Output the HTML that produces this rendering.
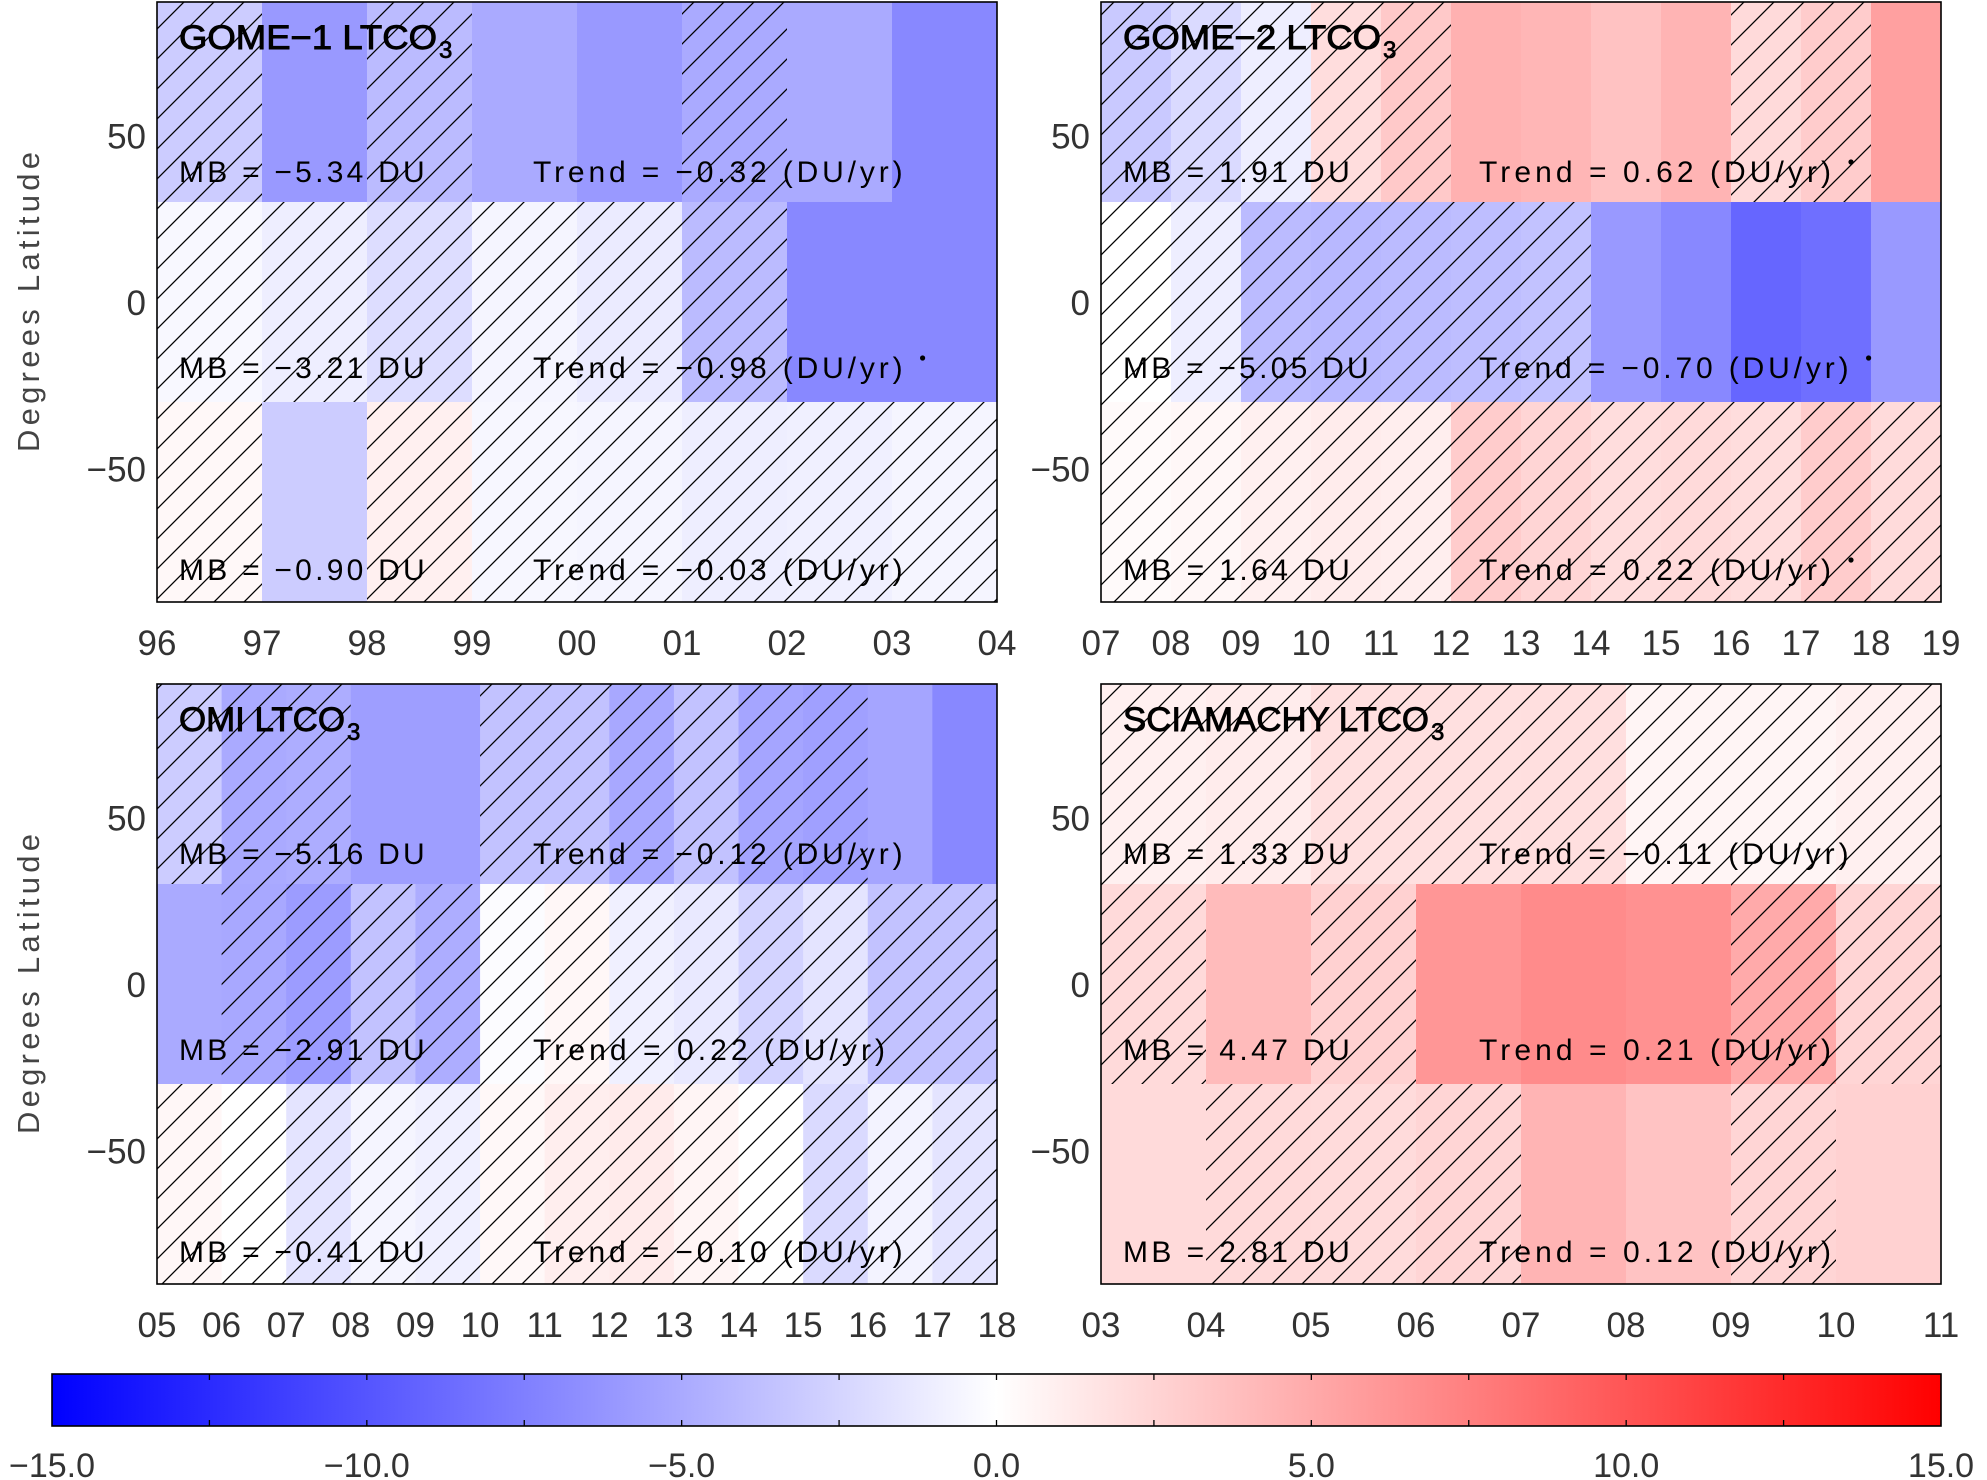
<!DOCTYPE html>
<html><head><meta charset="utf-8">
<style>
html,body{margin:0;padding:0;background:#fff;}
svg{display:block;}
text{font-family:"Liberation Sans",sans-serif;}
</style></head>
<body>
<svg id="fig" width="1987" height="1480" viewBox="0 0 1987 1480" xmlns="http://www.w3.org/2000/svg">
<defs>
<pattern id="hatch" patternUnits="userSpaceOnUse" width="30" height="30" patternTransform="translate(6,0)">
<path d="M0,30 L30,0 M-5,5 L5,-5 M25,35 L35,25" stroke="#000" stroke-width="1.3"/>
</pattern>
<linearGradient id="cbgrad" x1="0" x2="1" y1="0" y2="0">
<stop offset="0" stop-color="#0000ff"/><stop offset="0.5" stop-color="#ffffff"/><stop offset="1" stop-color="#ff0000"/>
</linearGradient>
</defs>
<g id="root"></g>
</svg>
<script>
// ---- data ----
const latBands = [[30, 90], [-30, 30], [-90, -30]];
const latTicks = [50, 0, -50];
const gome1Years = ["96","97","98","99","00","01","02","03","04"];
const gome1Vals = [
  [-3.0, -6.0, -4.0, -5.0, -6.0, -5.0, -5.0, -7.0],
  [-0.4, -1.0, -2.0, -0.6, -1.2, -4.0, -7.0, -7.0],
  [0.4, -3.0, 0.9, -0.5, -0.6, -1.0, -0.9, -0.6]
];
const gome1Hatch = [
  [1,0,1,0,0,1,0,0],
  [1,1,1,1,1,1,0,0],
  [1,0,1,1,1,1,1,1]
];
const gome1MB = ["−5.34","−3.21","−0.90"];
const gome1Trend = ["−0.32","−0.98","−0.03"];
const gome1Sig = [0,1,0];

const gome2Years = ["07","08","09","10","11","12","13","14","15","16","17","18","19"];
const gome2Vals = [
  [-3.2, -2.2, -1.0, 2.0, 3.2, 4.6, 4.3, 3.6, 4.4, 2.2, 3.0, 5.6],
  [0.0, -1.0, -4.0, -4.2, -4.0, -3.8, -3.6, -6.0, -7.0, -9.0, -8.5, -6.0],
  [0.3, 0.5, 0.9, 1.1, 1.0, 3.0, 2.5, 2.0, 2.2, 2.0, 3.0, 2.1]
];
const gome2Hatch = [
  [1,1,1,1,1,0,0,0,0,1,1,0],
  [1,1,1,1,1,1,1,0,0,0,0,0],
  [1,1,1,1,1,1,1,1,1,1,1,1]
];
const gome2MB = ["1.91","−5.05","1.64"];
const gome2Trend = ["0.62","−0.70","0.22"];
const gome2Sig = [1,1,1];

const omiYears = ["05","06","07","08","09","10","11","12","13","14","15","16","17","18"];
const omiVals = [
  [-3.0, -5.0, -4.8, -5.7, -5.7, -3.6, -3.6, -5.1, -3.6, -5.3, -5.6, -5.3, -7.0],
  [-5.0, -5.1, -5.8, -3.6, -4.8, -0.2, 0.5, -0.9, -1.3, -2.6, -1.6, -3.6, -3.6],
  [0.5, 0.0, -1.6, -0.6, -0.9, 0.4, 1.0, 1.2, 0.6, 0.0, -2.2, -0.7, -1.6]
];
const omiHatch = [
  [1,1,1,0,0,1,1,1,1,1,1,0,0],
  [0,1,1,1,1,1,1,1,1,1,1,1,1],
  [1,1,1,1,1,1,1,1,1,1,1,1,1]
];
const omiMB = ["−5.16","−2.91","−0.41"];
const omiTrend = ["−0.12","0.22","−0.10"];
const omiSig = [0,0,0];

const sciaYears = ["03","04","05","06","07","08","09","10","11"];
const sciaVals = [
  [0.9, 1.1, 1.8, 1.8, 1.9, 0.6, 0.6, 0.9],
  [2.2, 4.0, 2.7, 6.2, 6.8, 6.5, 5.0, 2.5],
  [2.2, 2.2, 2.1, 2.5, 4.4, 3.5, 2.5, 2.7]
];
const sciaHatch = [
  [1,1,1,1,1,1,1,1],
  [1,0,1,0,0,0,1,1],
  [0,1,1,1,0,0,1,0]
];
const sciaMB = ["1.33","4.47","2.81"];
const sciaTrend = ["−0.11","0.21","0.12"];
const sciaSig = [0,0,0];

const cbTicks = [-15, -10, -5, 0, 5, 10, 15];
const cbLabels = ["−15.0","−10.0","−5.0","0.0","5.0","10.0","15.0"];
const vMin = -15, vMax = 15;

// ---- helpers ----
const NS = "http://www.w3.org/2000/svg";
const root = document.getElementById('root');
function mk(tag, attrs, parent) {
  const e = document.createElementNS(NS, tag);
  for (const k in attrs) e.setAttribute(k, attrs[k]);
  (parent || root).appendChild(e);
  return e;
}
function colorFor(v) {
  let t = Math.max(-1, Math.min(1, v / 15));
  if (t < 0) { const c = Math.round(255 * (1 + t)); return `rgb(${c},${c},255)`; }
  const c = Math.round(255 * (1 - t)); return `rgb(255,${c},${c})`;
}

function drawPanel(opt) {
  const {x0, y0, w, h, years, vals, hatch, title, titleLen, mb, trend, sig, name, textX} = opt;
  const g = mk('g', {});
  
  
  const n = years.length - 1;
  const xs = i => x0 + w * i / n;
  const ys = lat => y0 + h * (90 - lat) / 180;
  for (let r = 0; r < latBands.length; r++) {
    for (let c = 0; c < n; c++) {
      const X = xs(c), Y = ys(latBands[r][1]);
      const W = xs(c + 1) - X, H = ys(latBands[r][0]) - Y;
      const cell = mk('rect', {x: X, y: Y, width: W + 0.5, height: H + 0.5, fill: colorFor(vals[r][c])}, g);
      
      
      if (hatch[r][c]) {
        const hh = mk('rect', {x: X, y: Y, width: W, height: H, fill: 'url(#hatch)'}, g);
        
        
      }
    }
  }
  const frame = mk('rect', {x: x0, y: y0, width: w, height: h, fill: 'none', stroke: '#000', 'stroke-width': 1.6}, g);
  
  
  // title
  const t = mk('text', {x: x0 + 22, y: y0 + 47, 'font-size': 34, fill: '#000', stroke: '#000', 'stroke-width': 0.9, textLength: titleLen, lengthAdjust: 'spacingAndGlyphs'}, g);
  
  
  t.textContent = title;
  const sub = mk('text', {x: x0 + 24 + titleLen, y: y0 + 56, 'font-size': 24, fill: '#000', stroke: '#000', 'stroke-width': 0.7}, g);
  
  
  sub.textContent = '3';
  // annotations
  const bases = [180, 376, 578];
  for (let r = 0; r < 3; r++) {
    const s1 = 'MB = ' + mb[r] + ' DU';
    const a = mk('text', {x: x0 + 22, y: y0 + bases[r], 'font-size': 30, fill: '#000', textLength: s1.length * 18.9, lengthAdjust: 'spacing'}, g);
    
    
    a.textContent = s1;
    const s2 = 'Trend = ' + trend[r] + ' (DU/yr)';
    const L = s2.length * 17.6;
    const b = mk('text', {x: x0 + textX, y: y0 + bases[r], 'font-size': 30, fill: '#000', textLength: L, lengthAdjust: 'spacing'}, g);
    
    
    b.textContent = s2;
    if (sig[r]) {
      const d = mk('circle', {cx: x0 + textX + L + 20, cy: y0 + bases[r] - 20, r: 2.6, fill: '#000'}, g);
      
      
    }
  }
  // x tick labels
  for (let i = 0; i < years.length; i++) {
    const lb = mk('text', {x: xs(i), y: y0 + h + 53, 'font-size': 35, fill: '#333', 'text-anchor': 'middle'}, g);
    
    
    lb.textContent = years[i];
  }
  // y tick labels
  for (const lt of latTicks) {
    const lb = mk('text', {x: x0 - 11, y: ys(lt) + 13, 'font-size': 35, fill: '#333', 'text-anchor': 'end'}, g);
    
    
    lb.textContent = lt < 0 ? '−' + Math.abs(lt) : String(lt);
  }
}

drawPanel({x0:157, y0:2, w:840, h:600, years:gome1Years, vals:gome1Vals, hatch:gome1Hatch, title:'GOME−1 LTCO', titleLen:258, mb:gome1MB, trend:gome1Trend, sig:gome1Sig, name:'gome1', textX:376});
drawPanel({x0:1101, y0:2, w:840, h:600, years:gome2Years, vals:gome2Vals, hatch:gome2Hatch, title:'GOME−2 LTCO', titleLen:258, mb:gome2MB, trend:gome2Trend, sig:gome2Sig, name:'gome2', textX:378});
drawPanel({x0:157, y0:684, w:840, h:600, years:omiYears, vals:omiVals, hatch:omiHatch, title:'OMI LTCO', titleLen:166, mb:omiMB, trend:omiTrend, sig:omiSig, name:'omi', textX:376});
drawPanel({x0:1101, y0:684, w:840, h:600, years:sciaYears, vals:sciaVals, hatch:sciaHatch, title:'SCIAMACHY LTCO', titleLen:306, mb:sciaMB, trend:sciaTrend, sig:sciaSig, name:'sciamachy', textX:378});

// y axis titles
for (const cy of [302, 984]) {
  const yt = mk('text', {x: 0, y: 0, 'font-size': 31, fill: '#444', 'text-anchor': 'middle', transform: `translate(39,${cy}) rotate(-90)`, textLength: 300, lengthAdjust: 'spacing'});
  
  
  yt.textContent = 'Degrees Latitude';
}

// colorbar
const cbX0 = 52, cbX1 = 1941, cbY0 = 1374, cbY1 = 1426;
const cbx = v => cbX0 + (cbX1 - cbX0) * (v - vMin) / (vMax - vMin);
const cbg = mk('g', {});


mk('rect', {x: cbX0, y: cbY0, width: cbX1 - cbX0, height: cbY1 - cbY0, fill: 'url(#cbgrad)', stroke: '#000', 'stroke-width': 1.6}, cbg);
for (let v = vMin + 2.5; v < vMax; v += 2.5) {
  mk('line', {x1: cbx(v), x2: cbx(v), y1: cbY0, y2: cbY0 + 6, stroke: '#000', 'stroke-width': 1.3}, cbg);
  mk('line', {x1: cbx(v), x2: cbx(v), y1: cbY1, y2: cbY1 - 6, stroke: '#000', 'stroke-width': 1.3}, cbg);
}
for (let i = 0; i < cbTicks.length; i++) {
  const lb = mk('text', {x: cbx(cbTicks[i]), y: 1477, 'font-size': 34, fill: '#333', 'text-anchor': 'middle'}, cbg);
  
  
  lb.textContent = cbLabels[i];
}
</script>
</body></html>
